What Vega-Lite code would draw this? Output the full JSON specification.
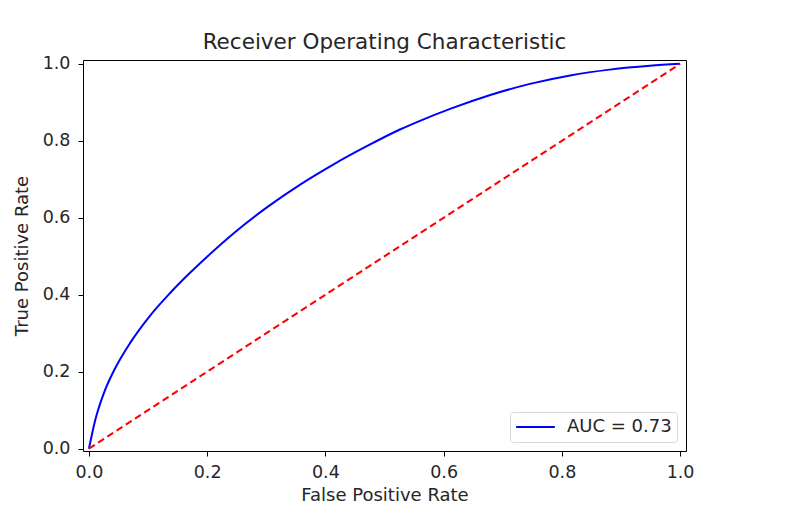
{
  "$schema": "https://vega.github.io/schema/vega-lite/v6.json",
  "width": 603,
  "height": 391,
  "autosize": {"type": "none"},
  "padding": {"left": 83, "top": 60, "right": 125, "bottom": 77},
  "background": "white",
  "config": {
    "font": "DejaVu Sans",
    "view": {"stroke": "#000000", "strokeWidth": 1},
    "axis": {
      "grid": false,
      "domain": false,
      "tickColor": "#000000",
      "tickSize": 5,
      "tickWidth": 1,
      "labelFont": "DejaVu Sans",
      "labelFontSize": 17.5,
      "labelColor": "#262626",
      "titleFont": "DejaVu Sans",
      "titleFontSize": 18,
      "titleFontWeight": "normal",
      "titleColor": "#262626"
    }
  },
  "title": {
    "text": "Receiver Operating Characteristic",
    "fontSize": 21.5,
    "fontWeight": "normal",
    "font": "DejaVu Sans",
    "color": "#262626",
    "offset": 1
  },
  "layer": [
    {
      "data": {"values": [
        {"fpr": 0, "tpr": 0, "series": "AUC = 0.73"},
        {"fpr": 0.0106, "tpr": 0.074, "series": "AUC = 0.73"},
        {"fpr": 0.0247, "tpr": 0.142, "series": "AUC = 0.73"},
        {"fpr": 0.0444, "tpr": 0.209, "series": "AUC = 0.73"},
        {"fpr": 0.0698, "tpr": 0.275, "series": "AUC = 0.73"},
        {"fpr": 0.1036, "tpr": 0.346, "series": "AUC = 0.73"},
        {"fpr": 0.137, "tpr": 0.404, "series": "AUC = 0.73"},
        {"fpr": 0.171, "tpr": 0.457, "series": "AUC = 0.73"},
        {"fpr": 0.2, "tpr": 0.499, "series": "AUC = 0.73"},
        {"fpr": 0.245, "tpr": 0.56, "series": "AUC = 0.73"},
        {"fpr": 0.301, "tpr": 0.627, "series": "AUC = 0.73"},
        {"fpr": 0.358, "tpr": 0.687, "series": "AUC = 0.73"},
        {"fpr": 0.414, "tpr": 0.739, "series": "AUC = 0.73"},
        {"fpr": 0.47, "tpr": 0.786, "series": "AUC = 0.73"},
        {"fpr": 0.527, "tpr": 0.83, "series": "AUC = 0.73"},
        {"fpr": 0.56, "tpr": 0.852, "series": "AUC = 0.73"},
        {"fpr": 0.611, "tpr": 0.883, "series": "AUC = 0.73"},
        {"fpr": 0.679, "tpr": 0.919, "series": "AUC = 0.73"},
        {"fpr": 0.746, "tpr": 0.948, "series": "AUC = 0.73"},
        {"fpr": 0.814, "tpr": 0.97, "series": "AUC = 0.73"},
        {"fpr": 0.881, "tpr": 0.985, "series": "AUC = 0.73"},
        {"fpr": 0.949, "tpr": 0.995, "series": "AUC = 0.73"},
        {"fpr": 1, "tpr": 1, "series": "AUC = 0.73"}
      ]},
      "mark": {"type": "line", "strokeWidth": 2, "interpolate": "monotone", "clip": false},
      "encoding": {
        "x": {
          "field": "fpr", "type": "quantitative",
          "scale": {"domain": [-0.01, 1.01], "nice": false, "zero": false},
          "axis": {"values": [0, 0.2, 0.4, 0.6, 0.8, 1.0], "format": ".1f", "title": "False Positive Rate", "labelPadding": 7, "titlePadding": 6}
        },
        "y": {
          "field": "tpr", "type": "quantitative",
          "scale": {"domain": [-0.006, 1.01], "nice": false, "zero": false},
          "axis": {"values": [0, 0.2, 0.4, 0.6, 0.8, 1.0], "format": ".1f", "title": "True Positive Rate", "labelPadding": 8, "titlePadding": 11}
        },
        "color": {
          "field": "series", "type": "nominal",
          "scale": {"domain": ["AUC = 0.73"], "range": ["#0000ff"]},
          "legend": {
            "title": null,
            "orient": "bottom-right",
            "offset": 9,
            "symbolType": "stroke",
            "symbolSize": 1500,
            "symbolStrokeWidth": 2,
            "clipHeight": 20,
            "labelFontSize": 18,
            "labelFont": "DejaVu Sans",
            "labelColor": "#262626",
            "labelOffset": 11,
            "strokeColor": "#d9d9d9",
            "fillColor": "white",
            "cornerRadius": 3,
            "padding": 5
          }
        }
      }
    },
    {
      "data": {"values": [
        {"fpr": 0, "tpr": 0},
        {"fpr": 1, "tpr": 1}
      ]},
      "mark": {"type": "line", "color": "#ff0000", "strokeWidth": 2, "strokeDash": [7, 4]},
      "encoding": {
        "x": {"field": "fpr", "type": "quantitative"},
        "y": {"field": "tpr", "type": "quantitative"}
      }
    }
  ]
}
